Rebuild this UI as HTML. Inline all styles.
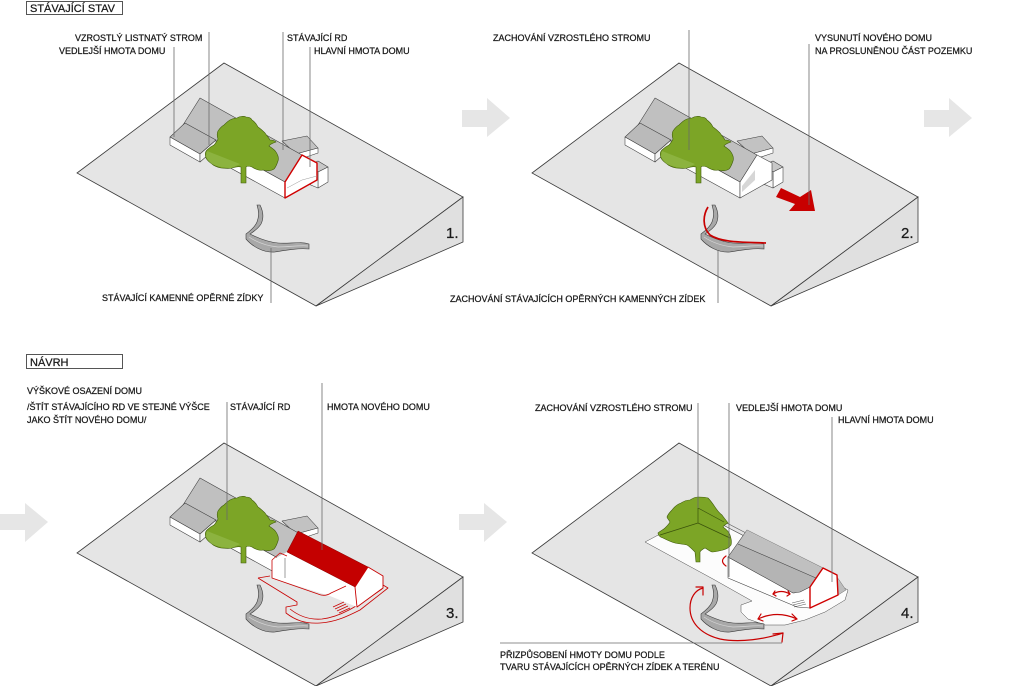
<!DOCTYPE html>
<html><head><meta charset="utf-8"><style>
html,body{margin:0;padding:0;background:#fff;}
svg{display:block;}
text{font-family:"Liberation Sans",Arial,sans-serif;fill:#1a1a1a;stroke:#1a1a1a;stroke-width:0.25;}
.l{font-size:9px;}
</style></head><body>
<svg width="1024" height="686" viewBox="0 0 1024 686" xmlns="http://www.w3.org/2000/svg">
<defs>
<g id="slab">
  <polygon points="224,63 77,173 316,306 463,197" fill="#e5e5e5" stroke="#3a3a3a" stroke-width="0.8"/>
  <polygon points="316,306 463,197 463,242" fill="#e0e0e0" stroke="#3a3a3a" stroke-width="0.8"/>
</g>
<g id="wall">
  <path d="M257,205 L260,205 C263,211 264,218 261,224 C258,229 253,232 250,234 C258,238 268,242 278,243 C290,244 300,241 309,244 L309,249 C298,248 287,250 275,252 C263,253 252,246 246,239 L246,234 C250,231 255,227 257,222 C259,217 259,211 257,205 Z" fill="#a8a8a8" stroke="#3c3c3c" stroke-width="0.6"/>
  <path d="M249,237 C258,243 268,246 278,247 C290,247 300,245 308,246" fill="none" stroke="#d6d6d6" stroke-width="0.7"/>
</g>
<g id="tree">
  <path d="M237,118 C240,116 244,116 246,117 C249,117 251,118 252,120 C255,122 257,125 258,127 C261,129 263,131 265,133 C267,136 269,138 270,140 C273,140 275,141 276,142 C273,143 270,144 269,146 C272,148 275,150 276,152 C278,155 279,158 278,161 C277,164 276,167 274,169 C271,171 267,171 263,170 C259,171 255,169 252,167 C249,166 247,166 246,167 L246,183 L241,183 L241,167 C238,166 235,167 232,168 C228,169 224,168 221,168 C217,167 214,166 212,164 C209,162 207,160 206,158 C205,155 205,152 207,150 C209,148 212,146 214,145 C216,143 217,141 218,139 C217,136 217,133 218,131 C220,128 222,126 224,125 C226,123 228,121 230,120 C232,119 235,118 237,118 Z" fill="#7ca526" stroke="#405c0c" stroke-width="0.6"/>
  <path d="M207,151 L240,164 L232,168 C226,168 218,167 212,164 C209,162 207,159 206,156 Z" fill="#93b94a" opacity="0.7"/>
</g>
<g id="oldhouse" stroke="#3c3c3c" stroke-width="0.55" stroke-linejoin="round">
  <polygon points="282,141 307,136 318,148 296,154" fill="#c2c2c2"/>
  <polygon points="296,154 318,148 318,153 300,159" fill="#ffffff"/>
  <polygon points="200,98 302,155 285,182 183,125" fill="#c0c0c0"/>
  <polygon points="205,138 285,182 285,198 205,154" fill="#ffffff"/>
  <polygon points="185,123 170,137 200,154 216,140" fill="#bababa"/>
  <polygon points="170,137 170,145 200,162 200,154" fill="#ffffff"/>
  <polygon points="200,154 216,140 216,148 200,162" fill="#f3f3f3"/>
</g>
<g id="annex" stroke="#3c3c3c" stroke-width="0.55" stroke-linejoin="round">
  <polygon points="306,166 318,161 328,167 318,172" fill="#c8c8c8"/>
  <polygon points="318,172 328,167 328,182 318,188" fill="#ffffff"/>
  <polygon points="306,166 318,172 318,188 306,183" fill="#f6f6f6"/>
</g>
</defs>

<!-- title boxes -->
<rect x="26.5" y="1.5" width="96" height="13" fill="#fff" stroke="#555" stroke-width="1"/>
<text x="30" y="12" style="font-size:11px">STÁVAJÍCÍ STAV</text>
<rect x="26.5" y="354.5" width="96" height="14" fill="#fff" stroke="#555" stroke-width="1"/>
<text x="30" y="366" style="font-size:11px">NÁVRH</text>

<!-- gray arrows -->
<g fill="#e6e6e6">
  <polygon points="462,110 487,110 487,98 510,118 487,137 487,127 462,127"/>
  <polygon points="924,110 949,110 949,98 972,118 949,137 949,127 924,127"/>
  <polygon points="0,514 25,514 25,503 48,522 25,542 25,530 0,530"/>
  <polygon points="459,514 484,514 484,503 507,522 484,542 484,530 459,530"/>
</g>

<!-- ================= PANEL 1 ================= -->
<use href="#slab"/>
<use href="#wall"/>
<use href="#oldhouse"/>
<use href="#annex"/>
<use href="#tree"/>
<polygon points="285,182 302,155 317,163 317,180 285,198" fill="#fff" stroke="#d00000" stroke-width="1.4" stroke-linejoin="round"/>
<polyline points="287,188 302,180 317,176" fill="none" stroke="#999" stroke-width="0.5"/>
<g stroke="#6a6a6a" stroke-width="0.8">
  <line x1="174" y1="47" x2="174" y2="137"/>
  <line x1="209" y1="32" x2="209" y2="145"/>
  <line x1="283" y1="32" x2="283" y2="150"/>
  <line x1="310" y1="47" x2="310" y2="167"/>
  <line x1="271" y1="248" x2="271" y2="303"/>
</g>
<text class="l" x="75" y="41">VZROSTLÝ LISTNATÝ STROM</text>
<text class="l" x="59" y="54">VEDLEJŠÍ HMOTA DOMU</text>
<text class="l" x="287" y="41">STÁVAJÍCÍ RD</text>
<text class="l" x="314" y="54">HLAVNÍ HMOTA DOMU</text>
<text class="l" x="102" y="301">STÁVAJÍCÍ KAMENNÉ OPĚRNÉ ZÍDKY</text>
<text x="446" y="238" style="font-size:15px">1.</text>

<!-- ================= PANEL 2 ================= -->
<g transform="translate(455,0)">
  <use href="#slab"/>
  <use href="#wall"/>
  <use href="#oldhouse"/>
  <use href="#annex"/>
  <use href="#tree"/>
  <polygon points="285,182 302,155 317,163 317,180 285,198" fill="#fff" stroke="#3c3c3c" stroke-width="0.6" stroke-linejoin="round"/>
  <polygon points="287,186 300,170 300,180 287,192" fill="#d6d6d6"/>
</g>
<path d="M708,207 C703,215 702,227 710,235 C722,243 745,242 766,243" fill="none" stroke="#c80000" stroke-width="1.7"/>
<polygon points="776,197 781,188 800,197 811,190 815,211 789,211 795,204" fill="#c80000"/>
<g stroke="#6a6a6a" stroke-width="0.8">
  <line x1="689" y1="30" x2="689" y2="150"/>
  <line x1="809" y1="44" x2="809" y2="205"/>
  <line x1="718" y1="250" x2="718" y2="303"/>
</g>
<text class="l" x="493" y="41">ZACHOVÁNÍ VZROSTLÉHO STROMU</text>
<text class="l" x="815" y="41">VYSUNUTÍ NOVÉHO DOMU</text>
<text class="l" x="815" y="54">NA PROSLUNĚNOU ČÁST POZEMKU</text>
<text class="l" x="450" y="302">ZACHOVÁNÍ STÁVAJÍCÍCH OPĚRNÝCH KAMENNÝCH ZÍDEK</text>
<text x="901" y="238" style="font-size:15px">2.</text>

<!-- ================= PANEL 3 ================= -->
<g transform="translate(0,380)">
  <use href="#slab"/>
  <use href="#wall"/>
  <use href="#oldhouse"/>
  <polygon points="303,183 313,179 318,182 318,190 308,194 303,191" fill="#fff" stroke="#3c3c3c" stroke-width="0.5"/>
</g>
<!-- terrace outline -->
<g fill="none" stroke="#c80000" stroke-width="0.8" stroke-linejoin="round">
  <polyline points="258,578 270,576"/>
  <path d="M258,578 L297,602 L297,605 L286,607 L286,613 C295,620 305,624 320,623 C336,622 348,616 360,610 L388,588 L383,585"/>
  <path d="M290,609 C300,617 310,620 322,619 C340,617 356,607 382,589"/>
</g>
<!-- new house -->
<polygon points="272,560 287,552 355,587 357,607 330,596 272,578" fill="#fff"/>
<g fill="none" stroke="#c80000" stroke-width="0.8" stroke-linejoin="round">
  <polyline points="272,560 272,578 318,594"/>
  <path d="M318,594 Q325,597 331,593 L346,586"/>
  <polyline points="272,560 280,553 287,556"/>
</g>
<line x1="285" y1="558" x2="285" y2="578" stroke="#3c3c3c" stroke-width="0.5"/>
<polygon points="287,552 298,531 368,567 355,587" fill="#c40000" stroke="#8a0000" stroke-width="0.5"/>
<polygon points="355,587 368,567 383,576 383,588 357,607" fill="#fff" stroke="#c80000" stroke-width="0.9" stroke-linejoin="round"/>
<g stroke="#c80000" stroke-width="0.7">
  <line x1="333" y1="607" x2="344" y2="602"/>
  <line x1="335" y1="609" x2="346" y2="604"/>
  <line x1="337" y1="611" x2="348" y2="606"/>
  <line x1="339" y1="613" x2="350" y2="608"/>
</g>
<g transform="translate(0,380)"><use href="#tree"/></g>
<g stroke="#6a6a6a" stroke-width="0.8">
  <line x1="227" y1="402" x2="227" y2="520"/>
  <line x1="322" y1="383" x2="322" y2="550"/>
</g>
<text class="l" x="27" y="394">VÝŠKOVÉ OSAZENÍ DOMU</text>
<text class="l" x="27" y="410">/ŠTÍT STÁVAJÍCÍHO RD VE STEJNÉ VÝŠCE</text>
<text class="l" x="27" y="423">JAKO ŠTÍT NOVÉHO DOMU/</text>
<text class="l" x="230" y="410">STÁVAJÍCÍ RD</text>
<text class="l" x="327" y="410">HMOTA NOVÉHO DOMU</text>
<text x="446" y="618" style="font-size:15px">3.</text>

<!-- ================= PANEL 4 ================= -->
<g transform="translate(455,380)">
  <use href="#slab"/>
</g>
<polygon points="645,542 700,513 848,590 845,600 825,612 805,620 785,625 765,625 748,619 741,612 741,605 752,601 713,579" fill="#fcfcfc" stroke="#4a4a4a" stroke-width="0.5" stroke-linejoin="round"/>
<g transform="translate(455,380)"><use href="#wall"/></g>
<g stroke="#555" stroke-width="0.6" fill="none">
  <line x1="698" y1="508" x2="746" y2="533"/>
  <line x1="698" y1="512" x2="746" y2="537"/>
</g>
<!-- house 4 -->
<polygon points="728,557 794,593 810,587 810,608 797,607 728,578" fill="#fff" stroke="#3c3c3c" stroke-width="0.55" stroke-linejoin="round"/>
<polygon points="728,557 747,530 823,568 810,587 800,592 793,593" fill="#b4b4b4" stroke="#3c3c3c" stroke-width="0.55" stroke-linejoin="round"/>
<polygon points="747,530 823,568 816,578 738,544" fill="#c0c0c0"/>
<line x1="738" y1="544" x2="816" y2="578" stroke="#444" stroke-width="0.6"/>
<g stroke="#555" stroke-width="0.6">
  <line x1="792" y1="603" x2="804" y2="600"/>
  <line x1="793" y1="605" x2="805" y2="602"/>
  <line x1="794" y1="607" x2="806" y2="604"/>
</g>
<polygon points="837,577 846,590 838,595" fill="#bdbdbd" stroke="#555" stroke-width="0.4"/>
<polygon points="810,587 823,568 837,575 838,595 810,608" fill="#fff" stroke="#d00000" stroke-width="1.4" stroke-linejoin="round"/>
<!-- tree 4 -->
<path d="M672,510 C675,506 678,504 681,503 C684,501 687,500 690,500 C693,498 695,497 698,497 C702,497 705,497 708,498 C711,501 713,504 715,507 C717,510 719,513 722,515 C724,518 726,520 728,523 C726,524 724,525 723,527 C726,529 729,532 730,535 C731,538 732,542 731,545 C729,548 726,549 723,550 C719,551 715,552 712,552 C709,551 707,549 705,548 C703,549 701,550 700,552 L700,562 L696,562 L695,552 C692,549 689,546 687,545 C683,544 679,544 675,543 C671,542 667,540 663,538 C660,537 658,535 658,533 C660,531 663,530 665,528 C667,526 669,524 670,522 C669,520 667,518 667,517 C668,514 670,512 672,510 Z" fill="#7ca526" stroke="#405c0c" stroke-width="0.6"/>
<g stroke="#3a520c" stroke-width="0.7" fill="none">
  <line x1="698" y1="508" x2="698" y2="523"/>
  <line x1="660" y1="535" x2="698" y2="523"/>
  <line x1="698" y1="523" x2="730" y2="538"/>
  <line x1="698" y1="508" x2="724" y2="522"/>
</g>
<!-- red arrows 4 -->
<g fill="none" stroke="#c80000" stroke-width="1.2" stroke-linecap="round" stroke-linejoin="round">
  <path d="M703,588 C695,590 690,598 690,608 C690,622 700,634 720,639 C740,643 765,639 783,633"/>
  <polyline points="696,587 703,587 703,595"/>
  <polyline points="773,634 783,633 782,642"/>
  <path d="M758,619 Q777,610 797,619"/>
  <polyline points="761,614 758,619 763,621"/>
  <polyline points="792,614 797,619 792,621"/>
  <path d="M773,594 Q781,589 790,594"/>
  <polyline points="775,591 773,594 776,596"/>
  <polyline points="788,591 790,594 787,596"/>
  <path d="M726,556 Q719,561 726,566"/>
</g>
<g stroke="#6a6a6a" stroke-width="0.8">
  <line x1="698" y1="403" x2="698" y2="508"/>
  <line x1="729" y1="403" x2="729" y2="577"/>
  <line x1="832" y1="417" x2="832" y2="582"/>
  <line x1="500" y1="643" x2="782" y2="643"/>
</g>
<text class="l" x="535" y="411">ZACHOVÁNÍ VZROSTLÉHO STROMU</text>
<text class="l" x="736" y="411">VEDLEJŠÍ HMOTA DOMU</text>
<text class="l" x="838" y="423">HLAVNÍ HMOTA DOMU</text>
<text class="l" x="500" y="658">PŘIZPŮSOBENÍ HMOTY DOMU PODLE</text>
<text class="l" x="500" y="670">TVARU STÁVAJÍCÍCH OPĚRNÝCH ZÍDEK A TERÉNU</text>
<text x="901" y="618" style="font-size:15px">4.</text>
</svg>
</body></html>
